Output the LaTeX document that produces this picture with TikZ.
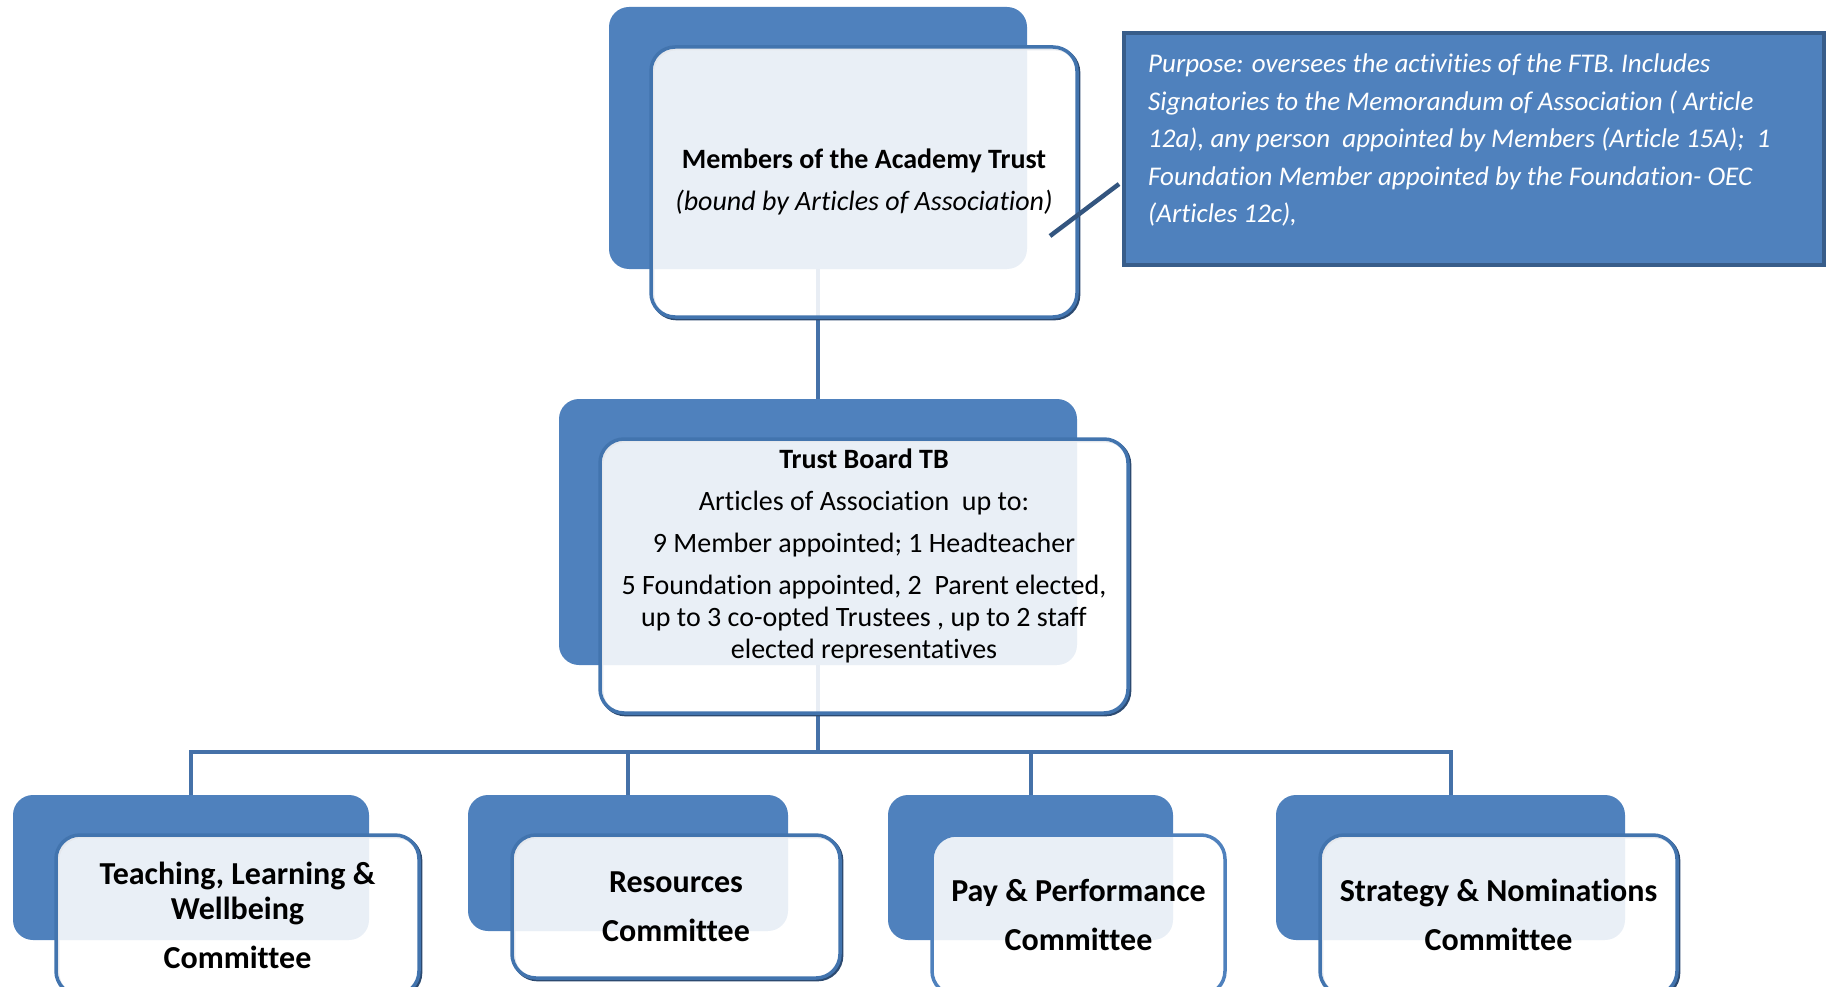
\documentclass[tikz,border=0pt]{standalone}
\usepackage{fontspec}
\setmainfont{Carlito}[Ligatures=NoCommon]
\definecolor{accblue}{HTML}{4F81BD}
\definecolor{edgeblue}{HTML}{4274AE}
\definecolor{edgedark}{HTML}{2C4A70}
\definecolor{linkblue}{HTML}{4571A8}
\definecolor{calloutedge}{HTML}{385D8A}
\begin{document}
\begin{tikzpicture}[x=1pt,y=-1pt,
    backbox/.style={fill=accblue, rounded corners=20pt, inner sep=0pt, outer sep=0pt},
    frontbox/.style={draw=edgeblue, line width=3.5pt, fill=white, fill opacity=0.88, text opacity=1,
                     rounded corners=24pt, inner sep=0pt, outer sep=0pt, align=center,
                     preaction={draw=edgedark, line width=3.5pt,
                                transform canvas={xshift=1.6pt, yshift=-1.6pt}}},
    flatbox/.style={draw=accblue, line width=3.5pt, fill=white, fill opacity=0.88, text opacity=1,
                    rounded corners=24pt, inner sep=0pt, outer sep=0pt, align=center},
    link/.style={draw=linkblue, line width=4.5pt},
    headfont/.style={font=\fontsize{28}{32}\selectfont},
    comfont/.style={font=\fontsize{32}{35}\selectfont\bfseries}]
    \useasboundingbox (0,0) rectangle (1836,987);

    % back panels
    \node[backbox, minimum width=418pt, minimum height=262pt] (mback) at (818,138) {};
    \node[backbox, minimum width=518pt, minimum height=266pt] (tbback) at (818,532) {};
    \node[backbox, minimum width=356pt, minimum height=145pt] (c1back) at (191,867.5) {};
    \node[backbox, minimum width=320pt, minimum height=136pt] (c2back) at (628,863) {};
    \node[backbox, minimum width=285pt, minimum height=145pt] (c3back) at (1030.5,867.5) {};
    \node[backbox, minimum width=349pt, minimum height=145pt] (c4back) at (1450.5,867.5) {};

    % connectors
    \coordinate (bus) at (818,752);
    \draw[link] (mback.south) -- (tbback.north);
    \draw[link] (tbback.south) -- (bus);
    \foreach \c in {c1back,c2back,c3back,c4back}
        \draw[link, line width=4pt] (\c.north) |- (bus);

    % front boxes
    \node[frontbox, headfont, minimum width=426pt, minimum height=270pt] (mfront) at (864,182)
        {\textbf{Members of the Academy Trust}\\[10pt]\textit{(bound by Articles of Association)}};
    \node[frontbox, minimum width=528pt, minimum height=274pt] (tbfront) at (864,576) {};
    \node[headfont, align=center, inner sep=0pt] (tbtext) at (864,556)
        {\textbf{Trust Board TB}\\[10pt]
         Articles of Association\ \ up to:\\[10pt]
         9 Member appointed; 1 Headteacher\\[10pt]
         5 Foundation appointed, 2\ \ Parent elected,\\
         up to 3 co-opted Trustees , up to 2 staff\\
         elected representatives};
    \node[frontbox, comfont, minimum width=363pt, minimum height=160pt] (c1front) at (237.5,915)
        {Teaching, Learning \&\\Wellbeing\\[14pt]Committee};
    \node[frontbox, comfont, minimum width=328pt, minimum height=143pt] (c2front) at (676,906.5)
        {Resources\\[14pt]Committee};
    \node[flatbox, comfont, minimum width=293pt, minimum height=160pt] (c3front) at (1078.5,915)
        {Pay \& Performance\\[14pt]Committee};
    \node[frontbox, comfont, minimum width=357pt, minimum height=160pt] (c4front) at (1498.5,915)
        {Strategy \& Nominations\\[14pt]Committee};

    % purpose note
    \node[fill=accblue, draw=calloutedge, line width=4pt, minimum width=700pt, minimum height=232pt,
          inner sep=0pt] (note) at (1474,149) {};
    \node[anchor=north west, inner sep=0pt, align=left, text=white,
          font=\fontsize{27}{37.5}\selectfont\itshape] (notetext) at (1148,54)
        {Purpose: oversees the activities of the FTB. Includes\\
         Signatories to the Memorandum of Association ( Article\\
         12a), any person\ \ appointed by Members (Article 15A);\ \ 1\\
         Foundation Member appointed by the Foundation- OEC\\
         (Articles 12c),};
    \coordinate (notefoot) at (1050,236);
    \coordinate (notehead) at (1119,184);
    \draw[link, draw=edgedark!80!accblue] (notefoot) -- (notehead);
\end{tikzpicture}
\end{document}
